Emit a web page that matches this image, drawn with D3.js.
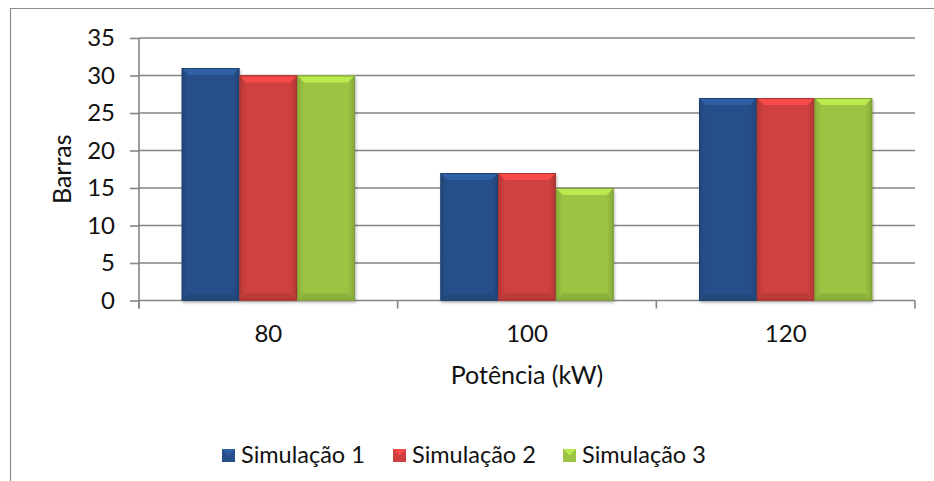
<!DOCTYPE html>
<html>
<head>
<meta charset="utf-8">
<script src="https://cdn.jsdelivr.net/npm/d3@7"></script>
<style>
  body { margin: 0; background: #fff; }
  svg { display: block; font-family: Lato, Carlito, Calibri, sans-serif; }
</style>
</head>
<body>
<svg width="934" height="481"></svg>
<script>
const categories = ['80', '100', '120'];
const seriesNames = ['Simulação 1', 'Simulação 2', 'Simulação 3'];
const sim1 = [31, 17, 27];
const sim2 = [30, 17, 27];
const sim3 = [30, 15, 27];
const yTicks = [0, 5, 10, 15, 20, 25, 30, 35];
const colors = ['#27508a', '#cf3f3f', '#9cc443'];

const seriesValues = [sim1, sim2, sim3];
const tickFont = '24px';
const titleFont = '25px';
const legendFont = '23.5px';
const lineColor = '#858585';

const svg = d3.select('svg');

// outer chart frame
svg.append('path')
    .attr('d', 'M10.5,481 V8.5 H934')
    .attr('fill', 'none')
    .attr('stroke', '#8c8c8c')
    .attr('stroke-width', 1.2);

const plot = { left: 139, right: 915, top: 38, bottom: 300.5 };

const x = d3.scaleBand()
    .domain(categories)
    .range([plot.left, plot.right]);

const xs = d3.scaleBand()
    .domain(seriesNames)
    .range([0, x.bandwidth()])
    .paddingOuter(0.74);

const y = d3.scaleLinear()
    .domain([0, 35])
    .range([plot.bottom, plot.top]);

// gridlines
svg.append('g')
    .selectAll('line')
    .data(yTicks.filter((d) => d > 0))
    .enter()
    .append('line')
    .attr('x1', plot.left)
    .attr('x2', plot.right)
    .attr('y1', (d) => y(d))
    .attr('y2', (d) => y(d))
    .attr('stroke', lineColor)
    .attr('stroke-width', 1.6);

// y axis
const yAxis = svg.append('g')
    .attr('transform', `translate(${plot.left},0)`)
    .call(d3.axisLeft(y).tickValues(yTicks).tickSize(9).tickPadding(15));
yAxis.attr('font-family', null).attr('font-size', null);
yAxis.select('.domain').attr('stroke', lineColor).attr('stroke-width', 1.6)
    .attr('d', `M0,${plot.top} V${plot.bottom + 8}`);
yAxis.selectAll('.tick line').attr('stroke', lineColor).attr('stroke-width', 1.6);
yAxis.selectAll('.tick text')
    .attr('fill', '#111')
    .style('font-size', tickFont);

// x axis
const xAxis = svg.append('g')
    .attr('transform', `translate(0,${plot.bottom})`)
    .call(d3.axisBottom(x).tickSize(0).tickPadding(24));
xAxis.attr('font-family', null).attr('font-size', null);
xAxis.select('.domain').attr('stroke', lineColor).attr('stroke-width', 1.6)
    .attr('d', `M${plot.left},0 H${plot.right}`);
xAxis.selectAll('.tick text')
    .attr('fill', '#111')
    .style('font-size', tickFont);
xAxis.append('g')
    .selectAll('line')
    .data([plot.left].concat(categories.map((d) => x(d) + x.bandwidth())))
    .enter()
    .append('line')
    .attr('x1', (d) => d)
    .attr('x2', (d) => d)
    .attr('y1', 0)
    .attr('y2', 8)
    .attr('stroke', lineColor)
    .attr('stroke-width', 1.6);

// gradients for the bevelled bars
const defs = svg.append('defs');
colors.forEach((c, i) => {
    const g = defs.append('linearGradient')
        .attr('id', 'grad' + i)
        .attr('x1', 0).attr('x2', 1).attr('y1', 0).attr('y2', 0);
    g.append('stop').attr('offset', '0%').attr('stop-color', d3.color(c).darker(0.35));
    g.append('stop').attr('offset', '12%').attr('stop-color', c);
    g.append('stop').attr('offset', '88%').attr('stop-color', c);
    g.append('stop').attr('offset', '100%').attr('stop-color', d3.color(c).darker(0.45));
});
const shadow = defs.append('filter').attr('id', 'shadow')
    .attr('x', '-20%').attr('y', '-10%').attr('width', '140%').attr('height', '130%');
shadow.append('feDropShadow')
    .attr('dx', 1).attr('dy', 2).attr('stdDeviation', 1.5)
    .attr('flood-color', '#000').attr('flood-opacity', 0.3);

// bars
const bars = [];
categories.forEach((cat, ci) => {
    seriesNames.forEach((s, si) => {
        bars.push({ cat, s, si, value: seriesValues[si][ci] });
    });
});

const barG = svg.append('g')
    .selectAll('g')
    .data(bars)
    .enter()
    .append('g')
    .attr('transform', (d) => `translate(${x(d.cat) + xs(d.s)},0)`);

const bw = xs.bandwidth();
const bev = 7;

barG.append('rect')
    .attr('x', 0)
    .attr('y', (d) => y(d.value))
    .attr('width', bw)
    .attr('height', (d) => plot.bottom - y(d.value))
    .attr('fill', (d) => `url(#grad${d.si})`)
    .attr('filter', 'url(#shadow)');

// top bevel
barG.append('path')
    .attr('d', (d) => {
        const t = y(d.value);
        return `M0,${t} H${bw} L${bw - bev},${t + bev} H${bev} Z`;
    })
    .attr('fill', (d) => d3.color(colors[d.si]).brighter(0.5));

// bottom bevel
barG.append('path')
    .attr('d', () => {
        const b = plot.bottom;
        return `M0,${b} H${bw} L${bw - bev},${b - bev} H${bev} Z`;
    })
    .attr('fill', (d) => d3.color(colors[d.si]).darker(0.3));

barG.append('rect')
    .attr('x', 0.5)
    .attr('y', (d) => y(d.value) + 0.5)
    .attr('width', bw - 1)
    .attr('height', (d) => plot.bottom - y(d.value) - 1)
    .attr('fill', 'none')
    .attr('stroke', (d) => d3.color(colors[d.si]).darker(0.6))
    .attr('stroke-width', 1);

// axis titles
svg.append('text')
    .attr('transform', `translate(71,${(plot.top + plot.bottom) / 2}) rotate(-90)`)
    .attr('text-anchor', 'middle')
    .attr('fill', '#111')
    .style('font-size', titleFont)
    .text('Barras');

svg.append('text')
    .attr('x', (plot.left + plot.right) / 2)
    .attr('y', 384)
    .attr('text-anchor', 'middle')
    .attr('fill', '#111')
    .style('font-size', titleFont)
    .text('Potência (kW)');

// legend
const legendX = [222, 393, 563];
const legend = svg.append('g')
    .selectAll('g')
    .data(seriesNames)
    .enter()
    .append('g')
    .attr('transform', (d, i) => `translate(${legendX[i]},449)`);

legend.append('rect')
    .attr('width', 13)
    .attr('height', 13)
    .attr('fill', (d, i) => colors[i]);
legend.append('path')
    .attr('d', 'M0,0 H13 L6.5,6.5 Z')
    .attr('fill', (d, i) => d3.color(colors[i]).brighter(0.5));

legend.append('text')
    .attr('x', 19)
    .attr('y', 14)
    .attr('fill', '#111')
    .style('font-size', legendFont)
    .text((d) => d);
</script>
</body>
</html>
